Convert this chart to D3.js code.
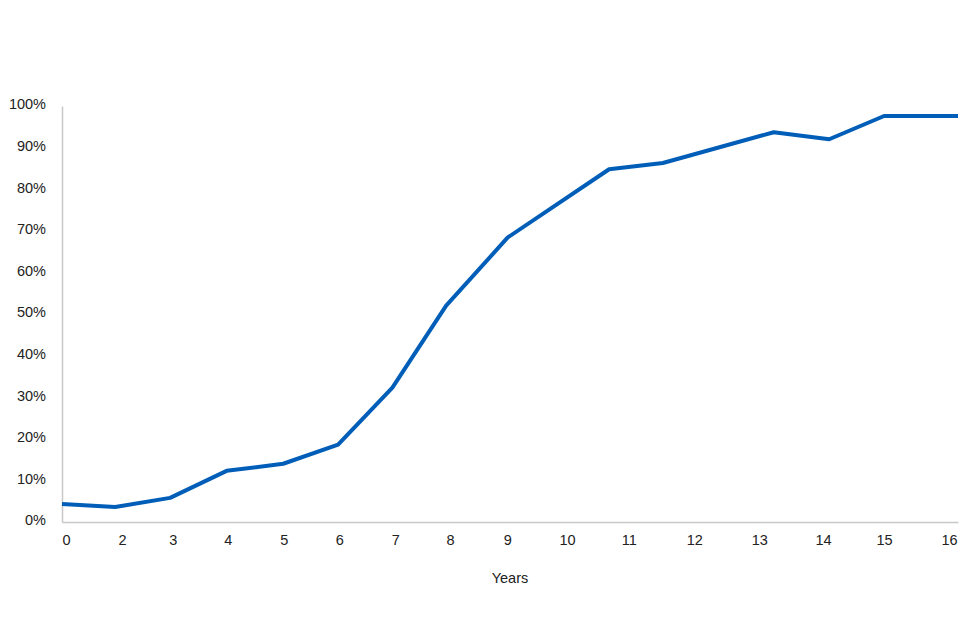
<!DOCTYPE html>
<html>
<head>
<meta charset="utf-8">
<script src="https://cdn.jsdelivr.net/npm/d3@7"></script>
<style>
  body { margin: 0; background: #fff; }
  svg text { font-family: "Liberation Sans", Arial, sans-serif; fill: #222; }
</style>
</head>
<body>
<div id="chart"></div>
<script>
// data (x in axis units, y in percent)
var xValues = [0, 0.95, 1.93, 2.94, 3.95, 4.93, 5.9, 6.86, 7.96, 9.77, 10.73, 12.71, 13.7, 14.68, 16];
var yValues = [4.3, 3.6, 5.8, 12.3, 14.0, 18.6, 32.3, 52.0, 68.4, 84.8, 86.3, 93.7, 92.0, 97.6, 97.6];

// x tick labels and where they sit on the axis
var tickLabels = ["0", "2", "3", "4", "5", "6", "7", "8", "9", "10", "11", "12", "13", "14", "15", "16"];
var tickPos = [0.07, 1.07, 1.98, 2.96, 3.96, 4.95, 5.95, 6.93, 7.95, 9.02, 10.12, 11.29, 12.45, 13.59, 14.68, 15.84];

var yTicks = [0, 10, 20, 30, 40, 50, 60, 70, 80, 90, 100];

var width = 960, height = 640;
var margin = {top: 106, right: 2, bottom: 118, left: 62};
var w = width - margin.left - margin.right,
    h = height - margin.top - margin.bottom;

var svg = d3.select("#chart").append("svg")
    .attr("width", width)
    .attr("height", height);

var main = svg.append("g")
    .attr("transform", "translate(" + margin.left + "," + margin.top + ")");

var x = d3.scaleLinear().domain([0, 16]).range([0, w]);
var y = d3.scaleLinear().domain([0, 100]).range([h, 0]);

// y axis
var yAxis = d3.axisLeft(y)
    .tickValues(yTicks)
    .tickSize(0)
    .tickPadding(16)
    .tickFormat(function(d) { return d + "%"; });

var gy = main.append("g").call(yAxis);
gy.select(".domain").attr("stroke", "#c8c8c8").attr("stroke-width", 1.5);
gy.selectAll("text").style("font-size", "14.5px").attr("dy", "0.2em");

// x axis
var xAxis = d3.axisBottom(x)
    .tickValues(tickPos)
    .tickSize(0)
    .tickPadding(13)
    .tickFormat(function(d, i) { return tickLabels[i]; });

var gx = main.append("g")
    .attr("transform", "translate(0," + h + ")")
    .call(xAxis);
gx.select(".domain").attr("stroke", "#c8c8c8").attr("stroke-width", 1.5);
gx.selectAll("text").style("font-size", "14.5px");

// axis title
main.append("text")
    .attr("x", x(8.0))
    .attr("y", h + 61)
    .attr("text-anchor", "middle")
    .style("font-size", "14.5px")
    .text("Years");

// the line
var line = d3.line()
    .x(function(d, i) { return x(xValues[i]); })
    .y(function(d) { return y(d); });

main.append("path")
    .datum(yValues)
    .attr("fill", "none")
    .attr("stroke", "#005EB8")
    .attr("stroke-width", 4)
    .attr("stroke-linejoin", "round")
    .attr("d", line);
</script>
</body>
</html>
